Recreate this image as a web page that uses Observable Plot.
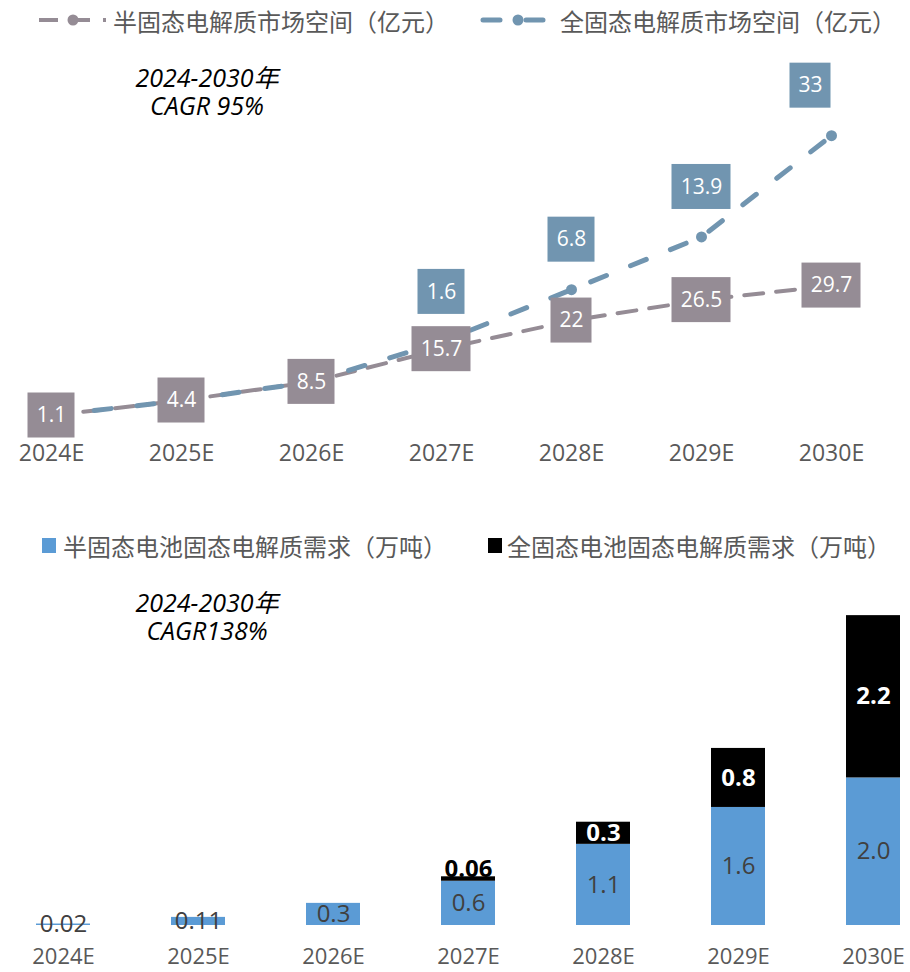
<!DOCTYPE html>
<html><head><meta charset="utf-8">
<script src="https://cdn.jsdelivr.net/npm/d3@7"></script>
<script src="https://cdn.jsdelivr.net/npm/@observablehq/plot@0.6"></script>
<style>
body{margin:0;background:#fff;}
#root{position:relative;width:910px;height:972px;overflow:hidden;font-family:'Open Sans','Noto Sans CJK SC',sans-serif;background:#fff;}
.abs{position:absolute;left:0;}
.note{position:absolute;font-style:italic;font-size:25px;color:#000;text-align:center;line-height:26px;height:26px;width:240px;white-space:nowrap;font-family:'Open Sans','Noto Sans CJK SC',sans-serif;}
</style></head><body><div id="root"></div>
<script>
// ---------- data ----------
const years = ["2024E","2025E","2026E","2027E","2028E","2029E","2030E"];
const semiMarket = [1.1, 4.4, 8.5, 15.7, 22, 26.5, 29.7];
const allMarket = [0, 0, 0, 1.6, 6.8, 13.9, 33];
const semiDemand = [0.02, 0.11, 0.3, 0.6, 1.1, 1.6, 2.0];
const allDemand = [0, 0, 0, 0.06, 0.3, 0.8, 2.2];
const marketSeries = ["半固态电解质市场空间（亿元）", "全固态电解质市场空间（亿元）"];
const demandSeries = ["半固态电池固态电解质需求（万吨）", "全固态电池固态电解质需求（万吨）"];
const noteTop = ["2024-2030年", "CAGR 95%"];
const noteBottom = ["2024-2030年", "CAGR138%"];

// ---------- styles ----------
const GREY = "#958c95";
const BLUE = "#7195b0";
const BAR_BLUE = "#5b9bd5";
const BAR_BLACK = "#000000";
const AXIS = "#595959";
const FONT = "'Open Sans','Noto Sans CJK SC',sans-serif";
const CJK = "'Noto Sans CJK SC',sans-serif";

const root = d3.select("#root");

// ---------- top legend ----------
{
  const svg = root.append("svg").attr("class","abs").style("top","0px")
    .attr("width",910).attr("height",40);
  const items = [
    {name: marketSeries[0], color: GREY, x0: 39, x1: 106, dot: 73, dash: "19,13", w: 4, cap: "butt", tx: 113},
    {name: marketSeries[1], color: BLUE, x0: 483, x1: 545, dot: 518, dash: "17,26", w: 5, cap: "round", tx: 560}
  ];
  for (const it of items) {
    svg.append("line").attr("x1",it.x0).attr("x2",it.x1).attr("y1",20).attr("y2",20)
      .attr("stroke",it.color).attr("stroke-width",it.w).attr("stroke-dasharray",it.dash)
      .attr("stroke-linecap",it.cap);
    svg.append("circle").attr("cx",it.dot).attr("cy",20).attr("r",5.5).attr("fill",it.color);
    svg.append("text").attr("x",it.tx).attr("y",20).attr("dominant-baseline","central")
      .attr("font-family",CJK).attr("font-size",24).attr("fill",AXIS).text(it.name);
  }
}

// ---------- top chart ----------
const market = years.map((y, i) => ({
  year: y, semi: semiMarket[i], all: allMarket[i], total: semiMarket[i] + allMarket[i]
}));

function charW(s) {
  let w = 0;
  for (const c of s) w += (c === ".") ? 6 : 12;
  return w + 17;
}
function boxLabels(data, {x, y, text, fill, dx = 0, dy = 0, filter}) {
  return Plot.text(data, {
    x, y, text, filter, dx, dy, fill: "white", fontSize: 21,
    render(index, scales, values, dimensions, context, next) {
      const node = next(index, scales, values, dimensions, context);
      const g = d3.create("svg:g");
      for (const i of index) {
        const s = text(data[i]);
        const w = charW(s);
        g.append("rect")
          .attr("x", values.x[i] + dx - w / 2)
          .attr("y", values.y[i] + dy - 22.5)
          .attr("width", w).attr("height", 45).attr("fill", fill);
      }
      g.append(() => node);
      return g.node();
    }
  });
}

const topChart = Plot.plot({
  width: 910, height: 440,
  marginTop: 62, marginBottom: 60, marginLeft: 0, marginRight: 0,
  style: {fontFamily: FONT, background: "transparent"},
  x: {type: "point", domain: years, range: [48, 833], padding: 0},
  y: {domain: [0, 70], axis: null},
  marks: [
    Plot.line(market, {x: "year", y: "semi", stroke: GREY, strokeWidth: 4, strokeDasharray: "19,13"}),
    Plot.line(market, {x: "year", y: "total", stroke: BLUE, strokeWidth: 5, strokeDasharray: "17,26", strokeLinecap: "round"}),
    Plot.dot(market, {x: "year", y: "semi", r: 5, fill: GREY}),
    Plot.dot(market, {x: "year", y: "total", r: 5.5, fill: BLUE}),
    boxLabels(market, {x: "year", y: "semi", text: d => String(d.semi), fill: GREY}),
    boxLabels(market, {x: "year", y: "total", text: d => String(d.all), fill: BLUE, dy: -50,
      filter: d => d.all > 0 && d.year !== years[years.length - 1]}),
    boxLabels(market, {x: "year", y: "total", text: d => String(d.all), fill: BLUE, dy: -50, dx: -21,
      filter: d => d.all > 0 && d.year === years[years.length - 1]}),
    Plot.axisX({tickSize: 0, tickPadding: 24, fontSize: 23, color: AXIS, label: null})
  ]
});
d3.select(topChart).attr("class","abs").style("top","40px");
root.node().appendChild(topChart);

root.append("div").attr("class","note").style("left","87px").style("top","64px").text(noteTop[0]);
root.append("div").attr("class","note").style("left","87px").style("top","92px").text(noteTop[1]);

// ---------- bottom legend ----------
{
  const svg = root.append("svg").attr("class","abs").style("top","525px")
    .attr("width",910).attr("height",40);
  const items = [
    {name: demandSeries[0], color: BAR_BLUE, sx: 42, tx: 63},
    {name: demandSeries[1], color: BAR_BLACK, sx: 488, tx: 507}
  ];
  for (const it of items) {
    svg.append("rect").attr("x",it.sx).attr("y",13).attr("width",14).attr("height",15).attr("fill",it.color);
    svg.append("text").attr("x",it.tx).attr("y",20).attr("dominant-baseline","central")
      .attr("font-family",CJK).attr("font-size",24).attr("fill",AXIS).text(it.name);
  }
}

// ---------- bottom chart ----------
const demand = years.flatMap((y, i) => [
  {year: y, series: demandSeries[0], value: semiDemand[i]},
  {year: y, series: demandSeries[1], value: allDemand[i]}
]);
const fmt = v => v < 0.2 ? v.toFixed(2) : v.toFixed(1);

const bottomChart = Plot.plot({
  width: 910, height: 402,
  marginTop: 23, marginBottom: 47, marginLeft: 0, marginRight: 0,
  style: {fontFamily: FONT, background: "transparent"},
  x: {type: "band", domain: years, range: [-5.6, 940.6], paddingInner: 0.6, paddingOuter: 0.3},
  y: {domain: [0, 4.5], axis: null},
  color: {domain: demandSeries, range: [BAR_BLUE, BAR_BLACK]},
  marks: [
    Plot.barY(demand, {x: "year", y: "value", fill: "series"}),
    Plot.text(demand, Plot.stackY({x: "year", y: "value",
      text: d => d.series === demandSeries[0] ? fmt(d.value) : null,
      fill: "#404040", fontSize: 24})),
    Plot.text(demand, Plot.stackY({x: "year", y: "value",
      text: d => d.series === demandSeries[1] && d.value >= 0.1 ? fmt(d.value) : null,
      fill: "white", fontWeight: "bold", fontSize: 24})),
    Plot.text(demand, Plot.stackY({x: "year", y: "value",
      text: d => d.series === demandSeries[1] && d.value > 0 && d.value < 0.1 ? fmt(d.value) : null,
      fill: "black", fontWeight: "bold", fontSize: 24, dy: -10})),
    Plot.axisX({tickSize: 0, tickPadding: 23, fontSize: 22, color: AXIS, label: null})
  ]
});
d3.select(bottomChart).attr("class","abs").style("top","570px");
root.node().appendChild(bottomChart);

root.append("div").attr("class","note").style("left","87px").style("top","589px").text(noteBottom[0]);
root.append("div").attr("class","note").style("left","87px").style("top","617px").text(noteBottom[1]);
</script>
</body></html>
